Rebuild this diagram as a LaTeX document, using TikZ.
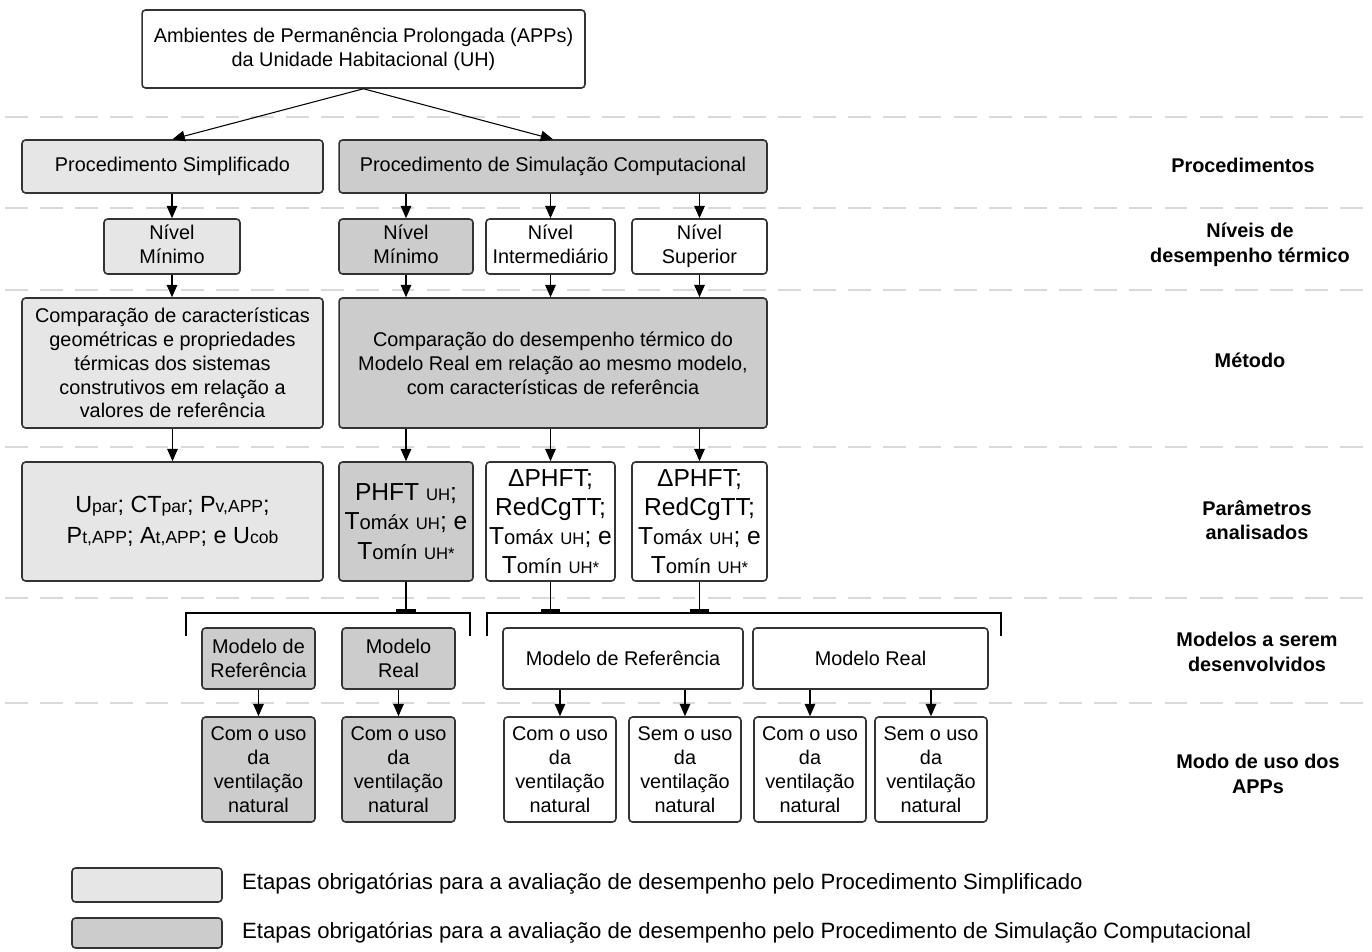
\documentclass[tikz,border=0pt]{standalone}
\usepackage{fontspec}
\setmainfont{Liberation Sans}
\usetikzlibrary{arrows.meta}
\definecolor{lgray}{HTML}{E6E6E6}
\definecolor{mgray}{HTML}{CCCCCC}
\definecolor{bord}{HTML}{333333}
\definecolor{dsh}{HTML}{D9D9D9}
\newcommand{\smt}[1]{{\fontsize{9.5}{13.6}\selectfont #1}}
\newcommand{\smp}[1]{{\fontsize{10}{13.6}\selectfont #1}}
\newcommand{\mdt}[1]{{\fontsize{11.5}{13.6}\selectfont #1}}
\begin{document}
\begin{tikzpicture}[x=0.02cm,y=-0.02cm,
 bx/.style={draw=bord, line width=0.9pt, rounded corners=2pt, align=center, inner sep=1pt, font=\fontsize{11.3}{13.6}\selectfont},
 lt/.style={bx, fill=lgray}, md/.style={bx, fill=mgray}, wt/.style={bx, fill=white},
 big/.style={font=\fontsize{14}{16.6}\selectfont},
 bigA/.style={font=\fontsize{13.3}{18}\selectfont},
 arr/.style={-{Triangle[length=7pt,width=6pt]}, line width=0.6pt},
 sep/.style={draw=dsh, line width=1.1pt, dash pattern=on 13pt off 7pt},
 lab/.style={align=center, font=\bfseries\fontsize{11.3}{14}\selectfont},
 brk/.style={line width=0.8pt},
 tee/.style={line width=0.8pt, -{Bar[width=11pt,line width=2pt]}},
 txt/.style={anchor=west, font=\fontsize{12.6}{15}\selectfont}
]
\useasboundingbox (0,0) rectangle (1372,952);
% separators
\foreach \yy in {117,208,290,447,598,703}{\draw[sep] (5,\yy) -- (1372,\yy);}
% top
\node[wt, minimum width=8.86cm, minimum height=1.56cm] (top) at (363.5,49) {Ambientes de Permanência Prolongada (APPs)\\da Unidade Habitacional (UH)};
% procedimentos
\node[lt, minimum width=6.02cm, minimum height=1.06cm] (ps) at (172.5,166.5) {Procedimento Simplificado};
\node[md, minimum width=8.56cm, minimum height=1.06cm] (psc) at (553,166.5) {Procedimento de Simulação Computacional};
% niveis
\node[lt, minimum width=2.72cm, minimum height=1.1cm] (n1) at (172,246.5) {Nível\\Mínimo\vphantom{p}};
\node[md, minimum width=2.68cm, minimum height=1.1cm] (n2) at (406,246.5) {Nível\\Mínimo\vphantom{p}};
\node[wt, minimum width=2.58cm, minimum height=1.1cm] (n3) at (550.5,246.5) {Nível\\Intermediário\vphantom{p}};
\node[wt, minimum width=2.70cm, minimum height=1.1cm] (n4) at (699.5,246.5) {Nível\\Superior\vphantom{á}};
% metodo
\node[lt, minimum width=6.02cm, minimum height=2.6cm] (m1) at (172.5,363) {Comparação de características\\geométricas e propriedades\\térmicas dos sistemas\\construtivos em relação a\\valores de referência};
\node[md, minimum width=8.56cm, minimum height=2.6cm] (m2) at (553,363) {Comparação do desempenho térmico do\\Modelo Real em relação ao mesmo modelo,\\com características de referência};
% parametros
\node[lt, bigA, minimum width=6.02cm, minimum height=2.38cm] (p1) at (172.5,521.5) {U\smp{par}; CT\smp{par}; P\smp{v,APP};\\P\smp{t,APP}; A\smp{t,APP}; e U\smp{cob}};
\node[md, big, minimum width=2.68cm, minimum height=2.38cm] (p2) at (406,521.5) {PHFT \smt{UH};\\T\mdt{omáx} \smt{UH}; e\\T\mdt{omín} \smt{UH*}};
\node[wt, big, minimum width=2.58cm, minimum height=2.38cm] (p3) at (550.5,521.5) {ΔPHFT;\\RedCgTT;\\T\mdt{omáx} \smt{UH}; e\\T\mdt{omín} \smt{UH*}};
\node[wt, big, minimum width=2.70cm, minimum height=2.38cm] (p4) at (699.5,521.5) {ΔPHFT;\\RedCgTT;\\T\mdt{omáx} \smt{UH}; e\\T\mdt{omín} \smt{UH*}};
% modelos
\node[md, minimum width=2.26cm, minimum height=1.22cm] (md1) at (258.5,658.5) {Modelo de\\Referência};
\node[md, minimum width=2.26cm, minimum height=1.22cm] (md2) at (398.5,658.5) {Modelo\\Real};
\node[wt, minimum width=4.8cm, minimum height=1.22cm] (md3) at (623,658.5) {Modelo de Referência};
\node[wt, minimum width=4.7cm, minimum height=1.22cm] (md4) at (870.5,658.5) {Modelo Real};
% modos
\node[md, minimum width=2.26cm, minimum height=2.1cm] (u1) at (258.5,769.5) {Com o uso\\da\\ventilação\\natural};
\node[md, minimum width=2.26cm, minimum height=2.1cm] (u2) at (398.5,769.5) {Com o uso\\da\\ventilação\\natural};
\node[wt, minimum width=2.24cm, minimum height=2.1cm] (u3) at (560,769.5) {Com o uso\\da\\ventilação\\natural};
\node[wt, minimum width=2.24cm, minimum height=2.1cm] (u4) at (685,769.5) {Sem o uso\\da\\ventilação\\natural};
\node[wt, minimum width=2.24cm, minimum height=2.1cm] (u5) at (810,769.5) {Com o uso\\da\\ventilação\\natural};
\node[wt, minimum width=2.24cm, minimum height=2.1cm] (u6) at (931,769.5) {Sem o uso\\da\\ventilação\\natural};
% right labels
\node[lab] (lb1) at (1243,165) {Procedimentos};
\node[lab] (lb2) at (1250,245) {Níveis de\\desempenho térmico};
\node[lab] (lb3) at (1250,360) {Método};
\node[lab] (lb4) at (1257,520) {Parâmetros\\analisados};
\node[lab] (lb5) at (1257,652) {Modelos a serem\\desenvolvidos};
\node[lab] (lb6) at (1258,774) {Modo de uso dos\\APPs};
% legend
\node[lt, minimum width=3cm, minimum height=0.68cm] (lg1) at (147,885) {};
\node[md, minimum width=3cm, minimum height=0.6cm] (lg2) at (147,933) {};
\node[txt] (lt1) at (236,884) {Etapas obrigatórias para a avaliação de desempenho pelo Procedimento Simplificado};
\node[txt] (lt2) at (236,933) {Etapas obrigatórias para a avaliação de desempenho pelo Procedimento de Simulação Computacional};
% arrows
\draw[arr] (top.south) -- (ps.north);
\draw[arr] (top.south) -- (psc.north);
\draw[arr] (ps.south -| n1.north) -- (n1.north);
\foreach \n in {n2,n3,n4}{\draw[arr] (psc.south -| \n.north) -- (\n.north);}
\draw[arr] (n1.south) -- (n1.south |- m1.north);
\foreach \n in {n2,n3,n4}{\draw[arr] (\n.south) -- (\n.south |- m2.north);}
\draw[arr] (m1.south -| p1.north) -- (p1.north);
\foreach \n in {p2,p3,p4}{\draw[arr] (m2.south -| \n.north) -- (\n.north);}
% brackets
\draw[brk] (186,636) -- (186,613) -- (470,613) -- (470,636);
\draw[brk] (487,636) -- (487,613) -- (1001,613) -- (1001,636);
\coordinate (t2) at (406,613);
\coordinate (t3) at (550.5,613);
\coordinate (t4) at (699.5,613);
\draw[tee] (p2.south) -- (t2);
\draw[tee] (p3.south) -- (t3);
\draw[tee] (p4.south) -- (t4);
% models to modes
\draw[arr] (md1.south) -- (u1.north);
\draw[arr] (md2.south) -- (u2.north);
\draw[arr] (md3.south -| u3.north) -- (u3.north);
\draw[arr] (md3.south -| u4.north) -- (u4.north);
\draw[arr] (md4.south -| u5.north) -- (u5.north);
\draw[arr] (md4.south -| u6.north) -- (u6.north);
\end{tikzpicture}
\end{document}
